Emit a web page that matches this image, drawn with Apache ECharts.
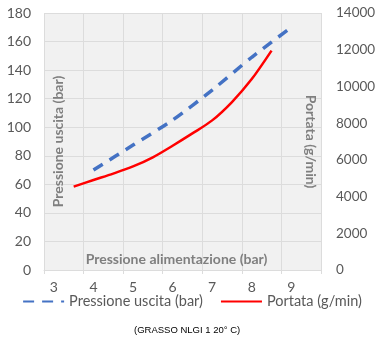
<!DOCTYPE html>
<html>
<head>
<meta charset="utf-8">
<script src="https://cdn.jsdelivr.net/npm/echarts@6/dist/echarts.min.js"></script>
<style>html,body{margin:0;padding:0;background:#fff}#c{width:384px;height:340px}</style>
</head>
<body>
<div id="c"></div>
<script>
// Pressione alimentazione (bar) -> Pressione uscita (bar)
var feedBlue = [4, 5, 6, 7, 8, 9];
var outPressure = [70, 87.5, 105, 126, 149, 170];
// Pressione alimentazione (bar) -> Portata (g/min)
var feedRed = [3.5, 4, 4.5, 5, 5.5, 6, 6.5, 7, 7.5, 8, 8.5];
var flowRate = [4540, 4900, 5250, 5640, 6140, 6770, 7440, 8150, 9150, 10400, 11950];
var xTickLabels = [3, 4, 5, 6, 7, 8, 9];
var leftTicks = [0, 20, 40, 60, 80, 100, 120, 140, 160, 180];
var rightTicks = [0, 2000, 4000, 6000, 8000, 10000, 12000, 14000];

var FONT = 'Lato';
var chart = echarts.init(document.getElementById('c'), null, {renderer: 'canvas'});
function zip(a, b) { return a.map(function (v, i) { return [v, b[i]]; }); }

chart.setOption({
  animation: false,
  textStyle: {fontFamily: FONT},
  grid: {left: 44, right: 63, top: 13, bottom: 70, show: true, outerBoundsMode: 'none',
         backgroundColor: '#f1f1f1', borderWidth: 0, containLabel: false},
  title: {text: '(GRASSO NLGI 1 20° C)', left: 129, top: 320,
          textStyle: {fontFamily: 'Liberation Sans', fontSize: 9.5, fontWeight: 'normal', color: '#000'}},
  legend: {
    bottom: 26, left: 'center', itemWidth: 41, itemHeight: 14, itemGap: 17,
    itemStyle: {opacity: 0},
    textStyle: {fontFamily: FONT, fontSize: 14.5, color: '#595959'},
    data: ['Pressione uscita (bar)', 'Portata (g/min)']
  },
  xAxis: [{
    type: 'value', min: 2.75, max: 9.75,
    name: 'Pressione alimentazione (bar)', nameLocation: 'middle', nameGap: -18, nameMoveOverlap: false,
    nameTextStyle: {fontFamily: FONT, fontSize: 14, fontWeight: 'bold', color: '#7f7f7f', padding: [0, 12, 0, 0]},
    axisLine: {show: false}, axisTick: {show: false}, splitLine: {show: false},
    axisLabel: {customValues: xTickLabels, fontSize: 14, color: '#595959', margin: 10}
  }, {
    type: 'value', min: 0, max: 7, interval: 1, position: 'bottom',
    axisLine: {show: true, lineStyle: {color: '#dcdcdc'}},
    axisTick: {show: true, length: 4, lineStyle: {color: '#dcdcdc'}},
    axisLabel: {show: false},
    splitLine: {show: true, lineStyle: {color: '#dcdcdc', width: 1}}
  }],
  yAxis: [{
    type: 'value', min: 0, max: 180, interval: 20,
    name: 'Pressione uscita (bar)', nameLocation: 'middle', nameGap: -21, nameMoveOverlap: false,
    nameTextStyle: {fontFamily: FONT, fontSize: 14, fontWeight: 'bold', color: '#7f7f7f', padding: [0, 0, 0, 0]},
    axisLine: {show: false}, axisTick: {show: false},
    axisLabel: {customValues: leftTicks, fontSize: 14, color: '#595959', margin: 13},
    splitLine: {show: true, lineStyle: {color: '#dcdcdc', width: 1}}
  }, {
    type: 'value', min: 0, max: 14000, interval: 2000, position: 'right',
    name: 'Portata (g/min)', nameLocation: 'middle', nameGap: -17, nameRotate: -90, nameMoveOverlap: false,
    nameTextStyle: {fontFamily: FONT, fontSize: 14, fontWeight: 'bold', color: '#7f7f7f'},
    axisLine: {show: false}, axisTick: {show: false},
    axisLabel: {customValues: rightTicks, fontSize: 13.5, color: '#595959', margin: 15,
                formatter: function (v) { return String(v); }},
    splitLine: {show: false}
  }],
  series: [{
    name: 'Pressione uscita (bar)', type: 'line', xAxisIndex: 0, yAxisIndex: 0,
    data: zip(feedBlue, outPressure), smooth: 0.25, symbol: 'none',
    lineStyle: {color: '#4472c4', width: 3.5, type: [11, 8], cap: 'butt'},
    itemStyle: {color: '#4472c4'}
  }, {
    name: 'Portata (g/min)', type: 'line', xAxisIndex: 0, yAxisIndex: 1,
    data: zip(feedRed, flowRate), smooth: 0.3, symbol: 'none',
    lineStyle: {color: '#ff0000', width: 2.5},
    itemStyle: {color: '#ff0000'}
  }]
});
</script>
</body>
</html>
